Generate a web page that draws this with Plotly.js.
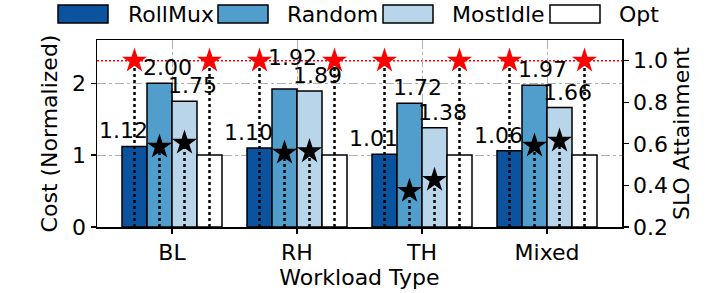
<!DOCTYPE html>
<html>
<head>
<meta charset="utf-8">
<script src="https://cdn.plot.ly/plotly-3.0.1.min.js"></script>
<style>html,body{margin:0;padding:0;background:#fff;}#chart{width:718px;height:293px;}</style>
</head>
<body>
<div id="chart"></div>
<script>
// ---- data ----
const categories = ['BL', 'RH', 'TH', 'Mixed'];
const seriesNames = ['RollMux', 'Random', 'MostIdle', 'Opt'];
const rollmuxCost = [1.12, 1.10, 1.01, 1.06];
const randomCost = [2.00, 1.92, 1.72, 1.97];
const mostIdleCost = [1.75, 1.89, 1.38, 1.66];
const optCost = [1.00, 1.00, 1.00, 1.00];
const rollmuxSLO = [1.0, 1.0, 1.0, 1.0];
const randomSLO = [0.586, 0.557, 0.373, 0.591];
const mostIdleSLO = [0.605, 0.564, 0.426, 0.615];
const optSLO = [1.0, 1.0, 1.0, 1.0];
const sloTarget = 1.0;
const costTicks = [0, 1, 2];
const sloTicks = [0.2, 0.4, 0.6, 0.8, 1.0];

// ---- styling ----
const colors = ['#0b539f', '#519dcc', '#b8d5ea', '#ffffff'];
const costs = [rollmuxCost, randomCost, mostIdleCost, optCost];
const slos = [rollmuxSLO, randomSLO, mostIdleSLO, optSLO];
const labelXShift = [-11, 8, 8, null];
const FONT = 'DejaVu Sans, Verdana, sans-serif';
const bargap = 0.2;
const xRange = [-0.6, 3.6];
const yRange = [0, 2.6];
const y2Range = [0.2, 1.1];
const W = 718, H = 293;
const M = {l: 97, r: 96, t: 40, b: 66, pad: 0};
const idx = categories.map((_, i) => i);
const slot = (1 - bargap) / seriesNames.length;
const offs = seriesNames.map((_, k) => -(1 - bargap) / 2 + slot * (k + 0.5));

const traces = [];
// bars
seriesNames.forEach((name, k) => {
  traces.push({
    type: 'bar', name: name, x: idx, y: costs[k], yaxis: 'y',
    marker: {color: colors[k], line: {color: '#000', width: 1.5}},
    showlegend: false, hoverinfo: 'skip'
  });
});
// dotted drop lines (on SLO axis)
seriesNames.forEach((name, k) => {
  const xs = [], ys = [];
  idx.forEach(i => { xs.push(i + offs[k], i + offs[k], null); ys.push(y2Range[0], slos[k][i], null); });
  traces.push({
    type: 'scatter', mode: 'lines', x: xs, y: ys, yaxis: 'y2', xaxis: 'x',
    line: {color: '#000', width: 2.5, dash: '3px,3px'}, showlegend: false, hoverinfo: 'skip'
  });
});
// stars
seriesNames.forEach((name, k) => {
  traces.push({
    type: 'scatter', mode: 'markers', x: idx.map(i => i + offs[k]), y: slos[k], yaxis: 'y2',
    marker: {symbol: 'star', size: 19, color: slos[k].map(v => v >= sloTarget ? '#ff0000' : '#000000'), line: {width: 0}},
    showlegend: false, hoverinfo: 'skip'
  });
});

// value labels
const annotations = [];
for (let k = 0; k < 3; k++) {
  idx.forEach(i => {
    let extra = 0;
    if (k === 1 && Math.abs(randomCost[i] - mostIdleCost[i]) < 0.1 && randomCost[i] > mostIdleCost[i]) extra = 16;
    if (k === 2 && Math.abs(randomCost[i] - mostIdleCost[i]) < 0.1 && mostIdleCost[i] > randomCost[i]) extra = 16;
    annotations.push({
      x: i + offs[k], y: costs[k][i], xref: 'x', yref: 'y', text: costs[k][i].toFixed(2),
      showarrow: false, xanchor: 'center', yanchor: 'bottom', xshift: labelXShift[k], yshift: 1 + extra,
      font: {family: FONT, size: 22, color: '#000'}
    });
  });
}

// custom legend (pixel layout -> paper coords)
const pw = W - M.l - M.r, ph = H - M.t - M.b;
const px = v => (v - M.l) / pw;
const py = v => (H - M.b - v) / ph;
const legSwX = [58, 218, 383, 550];
const legTxtX = [126, 285, 450, 617];
const shapes = [];
seriesNames.forEach((name, k) => {
  shapes.push({type: 'rect', xref: 'paper', yref: 'paper', x0: px(legSwX[k]), x1: px(legSwX[k] + 50),
    y0: py(23), y1: py(5), fillcolor: colors[k], line: {color: '#000', width: 1.5}});
  annotations.push({xref: 'paper', yref: 'paper', x: px(legTxtX[k]), y: py(14), text: name, showarrow: false,
    xanchor: 'left', yanchor: 'middle', font: {family: FONT, size: 22, color: '#000'}});
});
// SLO target line
shapes.push({type: 'line', xref: 'paper', yref: 'y2', x0: 0, x1: 1, y0: sloTarget, y1: sloTarget,
  line: {color: '#ff0000', width: 1.6, dash: '2px,2px'}, layer: 'below'});

const axisCommon = {
  showline: true, linecolor: '#000', linewidth: 1.5, ticks: 'outside', ticklen: 5, tickwidth: 1.2,
  tickcolor: '#000', zeroline: false, tickfont: {family: FONT, size: 22, color: '#000'}
};

const layout = {
  width: W, height: H, margin: M, paper_bgcolor: '#fff', plot_bgcolor: '#fff',
  font: {family: FONT, size: 22, color: '#000'},
  barmode: 'group', bargap: bargap, bargroupgap: 0, showlegend: false,
  xaxis: Object.assign({}, axisCommon, {
    range: xRange, tickvals: idx, ticktext: categories, mirror: true,
    showgrid: true, gridcolor: '#b0b0b0', gridwidth: 1, griddash: 'dashdot',
    title: {text: 'Workload Type', font: {family: FONT, size: 22}, standoff: 2}
  }),
  yaxis: Object.assign({}, axisCommon, {
    range: yRange, tickvals: costTicks, mirror: true,
    showgrid: true, gridcolor: '#b0b0b0', gridwidth: 1, griddash: 'dashdot',
    title: {text: 'Cost (Normalized)', font: {family: FONT, size: 22}, standoff: 8}
  }),
  yaxis2: Object.assign({}, axisCommon, {
    range: y2Range, tickvals: sloTicks, tickformat: '.1f', overlaying: 'y', side: 'right',
    showgrid: false,
    title: {text: 'SLO Attainment', font: {family: FONT, size: 22}, standoff: 6}
  }),
  shapes: shapes, annotations: annotations
};

Plotly.newPlot('chart', traces, layout, {displayModeBar: false, staticPlot: true});
</script>
</body>
</html>
